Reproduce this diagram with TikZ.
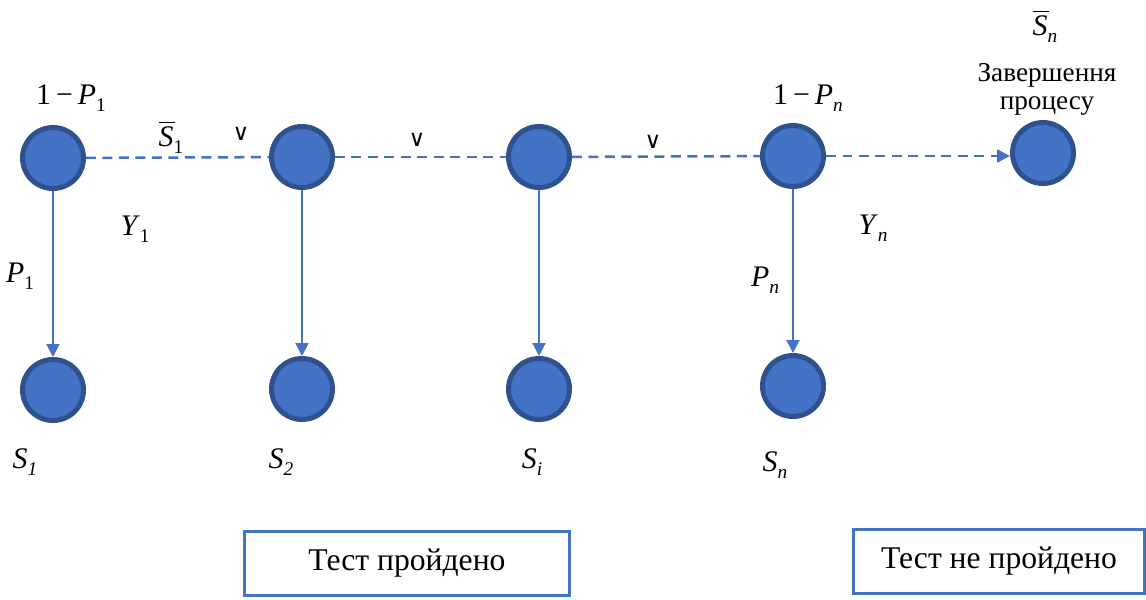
\documentclass[tikz,border=0pt]{standalone}
\usepackage{fontspec}
\setmainfont{Liberation Serif}
\newfontfamily\orsignfont{DejaVu Sans}
\definecolor{stfill}{RGB}{68,114,196}
\definecolor{stdraw}{RGB}{47,82,143}
\usetikzlibrary{arrows.meta,positioning}
\newcommand{\lowsub}[1]{\raisebox{-0.5ex}{\fontsize{11}{12}\selectfont #1}}
\newcommand{\barS}{\rlap{\raisebox{0.78em}{\rule{0.55em}{0.6pt}}}\textit{S}}

\begin{document}
\begin{tikzpicture}[x=0.02cm, y=-0.02cm,
  stnode/.style={circle, draw=stdraw, fill=stfill, line width=0.1cm, minimum size=1.22cm, inner sep=0pt},
  link/.style={draw=stfill, line width=0.04cm, -{Triangle[width=0.26cm,length=0.26cm]}},
  dlink/.style={draw=stfill, line width=0.05cm, dash pattern=on 0.2cm off 0.13cm},
  lbl/.style={font=\fontsize{17}{20}\selectfont, inner sep=0pt},
  orsign/.style={font=\orsignfont\fontsize{13}{15}\selectfont, inner sep=0pt},
  resbox/.style={draw=stfill, line width=0.06cm, minimum height=1.28cm, font=\fontsize{18}{21}\selectfont}]
  \useasboundingbox (0,0) rectangle (1146,599);
  % top row
  \node[stnode] (t1) at (53,158) {};
  \node[stnode] (t2) at (302,157) {};
  \node[stnode] (t3) at (539,157) {};
  \node[stnode] (t4) at (793,156) {};
  \node[stnode] (fin) at (1043,153) {};
  % bottom row
  \node[stnode] (b1) at (53,390) {};
  \node[stnode] (b2) at (302,389) {};
  \node[stnode] (b3) at (539,389) {};
  \node[stnode] (b4) at (793,386) {};
  % connectors
  \draw[dlink] (t1) -- (t2);
  \draw[dlink] (t2) -- (t3);
  \draw[dlink] (t3) -- (t4);
  \draw[dlink, -{Triangle[width=0.26cm,length=0.26cm]}] (t4.east) -- (t4.east -| fin.west);
  \draw[link] (t1) -- (b1);
  \draw[link] (t2) -- (b2);
  \draw[link] (t3) -- (b3);
  \draw[link] (t4) -- (b4);
  % labels
  \node[lbl] (q1) at (71,98) {1\,−\,\textit{P}\lowsub{1}};
  \node[lbl] (qn) at (808,98) {1\,−\,\textit{P}\lowsub{\textit{n}}};
  \node[lbl] (sb1) at (171,138) {\barS\lowsub{1}};
  \node[lbl] (sbn) at (1045,27) {\barS\lowsub{\textit{n}}};
  \node[orsign] (v1) at (241,134) {∨};
  \node[orsign] (v2) at (417,140) {∨};
  \node[orsign] (v3) at (653,142) {∨};
  \node[lbl] (y1) at (135,229) {\textit{Y}\lowsub{1}};
  \node[lbl] (yn) at (873,228) {\textit{Y}\lowsub{\textit{n}}};
  \node[lbl] (p1) at (20,276) {\textit{P}\lowsub{1}};
  \node[lbl] (pn) at (765,280) {\textit{P}\lowsub{\textit{n}}};
  \node[lbl] (s1) at (25,462) {\textit{S\lowsub{1}}};
  \node[lbl] (s2) at (281,462) {\textit{S\lowsub{2}}};
  \node[lbl] (si) at (532,462) {\textit{S\lowsub{i}}};
  \node[lbl] (sn) at (775,465) {\textit{S\lowsub{n}}};
  \node[lbl, font=\fontsize{15.5}{16}\selectfont, align=center] (zav) at (1047,89) {Завершення\\процесу};
  % result boxes
  \node[resbox, minimum width=6.52cm] (pass) at (407,563) {Тест пройдено};
  \node[resbox, minimum width=5.82cm] (fail) at (999,561) {Тест не пройдено};
\end{tikzpicture}
\end{document}
